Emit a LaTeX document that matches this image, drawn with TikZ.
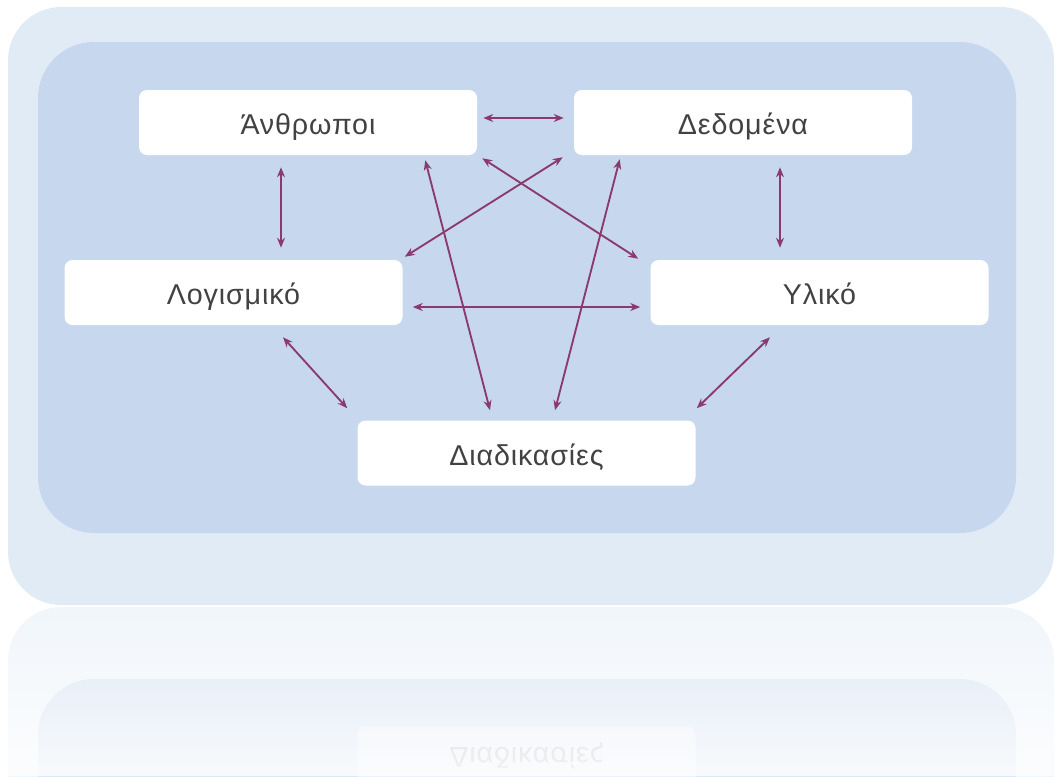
\documentclass[tikz,border=0pt]{standalone}
\usepackage{fontspec}
\setmainfont{Liberation Sans}[LetterSpace=3]
\usetikzlibrary{calc,arrows.meta,fadings}
\definecolor{panelout}{RGB}{224,235,246}
\definecolor{panelin}{RGB}{199,216,238}
\definecolor{linkcol}{RGB}{138,58,108}
\definecolor{txtcol}{RGB}{66,66,66}
\tikzfading[name=reflfade, top color=transparent!100, bottom color=transparent!20]

\begin{document}
\begin{tikzpicture}[x=0.75pt,y=0.75pt,yscale=-1,xscale=1,
  box/.style={fill=white, rounded corners=6pt, minimum width=253.5pt, minimum height=48.75pt, inner sep=0pt, text height=20pt, text depth=2pt, font=\fontsize{21.5}{25}\selectfont, text=txtcol},
  link/.style={draw=linkcol, line width=1.4pt, {Stealth[length=7.5pt,width=6pt]}-{Stealth[length=7.5pt,width=6pt]}}]
\useasboundingbox (0,0) rectangle (1056,776);

%Shape: Outer panel
\fill[panelout, rounded corners=40pt] (8,7) rectangle (1054,605);
%Shape: Inner panel
\fill[panelin, rounded corners=42pt] (38,42) rectangle (1016,533);

% Text Node
\node[box] (anth) at (308,122.5) {Άνθρωποι};
% Text Node
\node[box] (data) at (743,122.5) {Δεδομένα};
% Text Node
\node[box] (soft) at (233.5,292.5) {Λογισμικό};
% Text Node
\node[box] (hard) at (819.5,292.5) {Υλικό};
% Text Node
\node[box] (proc) at (526.5,453) {Διαδικασίες};

%Straight Lines
\draw[link] ($(anth.east)+(6,-4.5)$) -- ($(data.west)+(-10,-4.5)$);
\draw[link] ($(anth.south)+(-27,12)$) -- ($(soft.north)+(47.5,-12)$);
\draw[link] ($(data.south)+(37,12)$) -- ($(hard.north)+(-39.5,-12)$);
\draw[link] ($(soft.east)+(10,14.5)$) -- ($(hard.west)+(-10,14.5)$);
\draw[link] ($(soft.south)+(49.5,12)$) -- ($(proc.north west)+(-10,-12)$);
\draw[link] ($(hard.south)+(-49.5,12)$) -- ($(proc.north east)+(1,-12)$);
\draw[link] ($(anth.south east)+(-52,5)$) -- ($(proc.north)+(-36.5,-10)$);
\draw[link] ($(data.south west)+(46,4)$) -- ($(proc.north)+(28.5,-10)$);
\draw[link] ($(anth.south east)+(5,3)$) -- ($(hard.north west)+(-12,-1)$);
\draw[link] ($(data.south west)+(-11,2)$) -- ($(soft.north east)+(2,-3)$);

%Reflection
\begin{scope}
\clip (0,606) rectangle (1056,776);
\begin{scope}[shift={(0,1212)}, yscale=-1, opacity=0.45]
\fill[panelout, rounded corners=40pt] (8,7) rectangle (1054,605);
\fill[panelin, rounded corners=42pt] (38,42) rectangle (1016,533);
\node[box, yscale=-1, transform shape, text=txtcol!60] (procrefl) at (526.5,453) {Διαδικασίες};
\end{scope}
\fill[white, path fading=reflfade] (0,606) rectangle (1056,776);
\end{scope}

\end{tikzpicture}
\end{document}
